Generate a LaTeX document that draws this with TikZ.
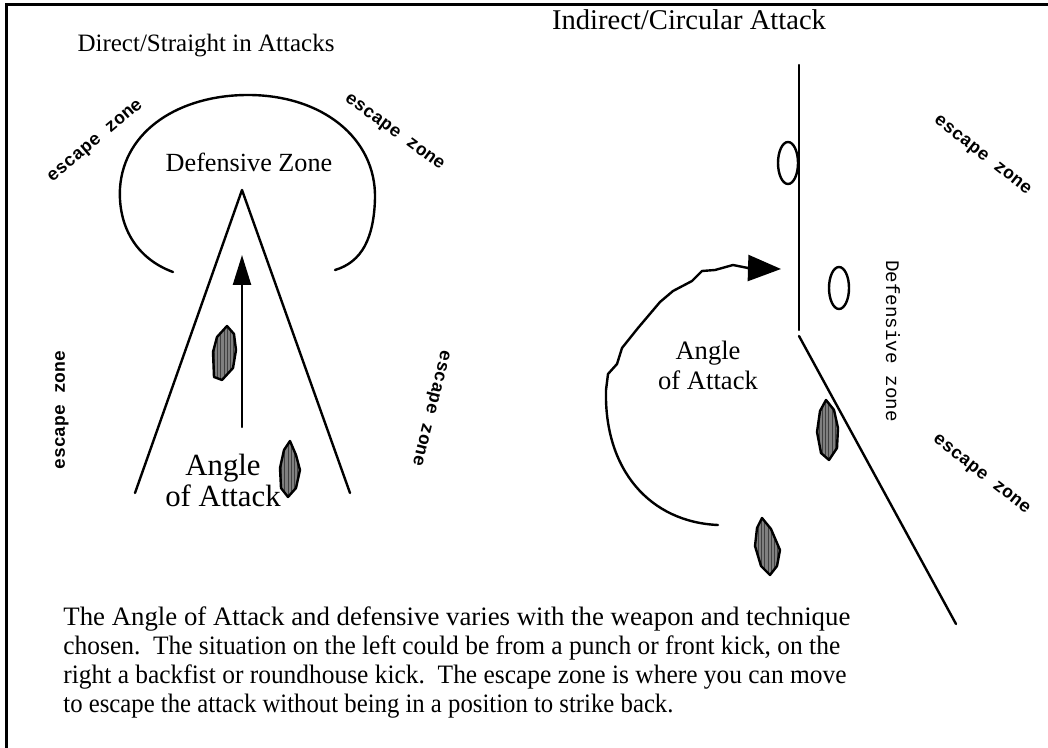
\documentclass[tikz,border=0pt]{standalone}
\usepackage{fontspec}
\setmainfont{Liberation Serif}
\newfontfamily\monofont{Liberation Mono}
\usetikzlibrary{arrows.meta,patterns.meta}
\tikzset{
  ln/.style={line width=1.2pt, line cap=round, line join=round},
  body/.style={font=\fontsize{13.3}{15}\selectfont, inner sep=0pt},
  lbl/.style={font=\fontsize{12.5}{15}\selectfont, align=center, inner sep=0pt},
  esc/.style={font=\monofont\bfseries\fontsize{9}{9}\selectfont, inner sep=0pt},
  dz/.style={font=\monofont\fontsize{9.6}{9.6}\selectfont, inner sep=0pt},
  blob/.style={line width=1.2pt, line join=round, draw=black,
    preaction={fill=black!50},
    pattern={Lines[angle=90,distance=1.6pt,line width=0.45pt]}, pattern color=black!75},
}
\begin{document}
\begin{tikzpicture}[x=0.5pt,y=-0.5pt]
\useasboundingbox (0,0) rectangle (1048,748);
% frame
\draw[line width=1.5pt] (6,748) -- (6,5) -- (1048,5);

% ---------- left diagram ----------
\node[lbl] (t1) at (206,46) {Direct/Straight in Attacks};
\draw[ln] (173,272) .. controls (135,258) and (118,225) .. (120,188)
  .. controls (124,130) and (180,95) .. (248,95)
  .. controls (322,95) and (376,138) .. (375,198)
  .. controls (374,238) and (362,262) .. (335,270);
\node[lbl, font=\fontsize{13.1}{15}\selectfont] (dzl) at (249,162) {Defensive Zone};
\coordinate (apex) at (242,190);
\coordinate (bl) at (135,493);
\coordinate (br) at (350,493);
\draw[ln] (bl) -- (apex) -- (br);
\coordinate (a1s) at (242,427);
\coordinate (a1e) at (242,255);
\draw[ln, -{Triangle[length=15pt,width=9pt]}] (a1s) -- (a1e);
\node[lbl, font=\fontsize{15.4}{15.5}\selectfont] (aa1) at (223,480) {Angle\\of Attack};
\draw[blob] (227,326) -- (234,334) -- (236,350) -- (233,368) -- (222,380) -- (214,377) -- (213,352) -- (217,337) -- cycle;
\draw[blob] (290,441) -- (296,455) -- (300,470) -- (296,488) -- (288,497) -- (281,488) -- (280,468) -- (284,450) -- cycle;
\node[esc, rotate=40] (e1) at (96,142) {escape zone};
\node[esc, rotate=-36] (e2) at (394,133) {escape zone};
\node[esc, rotate=90] (e3) at (62,410) {escape zone};
\node[esc, rotate=-104] (e4) at (430,408) {escape zone};

% ---------- right diagram ----------
\node[lbl, font=\fontsize{14.3}{15}\selectfont] (t2) at (689,20) {Indirect/Circular Attack};
\coordinate (v1) at (799,65);
\coordinate (v2) at (799,330);
\coordinate (d1) at (799,336);
\coordinate (d2) at (956,624);
\draw[ln] (v1) -- (v2);
\draw[ln] (d1) -- (d2);
\draw[ln] (788,163) ellipse [x radius=10, y radius=21];
\draw[ln] (839,288) ellipse [x radius=10, y radius=21];
\coordinate (c0) at (718,525);
\coordinate (ctip) at (781,269);
\draw[ln] (c0) .. controls (650,522) and (604,470) .. (606,390)
  -- (608,374) -- (617,364) -- (622,348) -- (638,328) -- (660,302)
  -- (673,291) -- (692,281) -- (702,271) -- (715,270) -- (733,265) -- (748,268);
\draw[ln, -{Triangle[length=16.5pt,width=13pt]}] (747,268) -- (ctip);
\node[lbl, font=\fontsize{13.3}{15}\selectfont] (aa2) at (708,365) {Angle\\of Attack};
\node[dz, rotate=-90] (dzr) at (893,341) {Defensive zone};
\draw[blob] (826,400) -- (834,410) -- (838,428) -- (837,448) -- (829,460) -- (821,453) -- (817,432) -- (820,411) -- cycle;
\draw[blob] (762,518) -- (771,529) -- (780,550) -- (777,566) -- (770,575) -- (761,566) -- (755,546) -- (757,528) -- cycle;
\node[esc, rotate=-38] (e5) at (982,156) {escape zone};
\node[esc, rotate=-38] (e6) at (981,475) {escape zone};

% ---------- caption ----------
\node[body, anchor=west] (p1) at (63,619) {\scalebox{1.008}[1]{The Angle of Attack and defensive varies with the weapon and technique}};
\node[body, anchor=west] (p2) at (63,648) {\scalebox{0.956}[1]{chosen.\ \ The situation on the left could be from a punch or front kick, on the}};
\node[body, anchor=west] (p3) at (63,677) {\scalebox{0.956}[1]{right a backfist or roundhouse kick.\ \ The escape zone is where you can move}};
\node[body, anchor=west] (p4) at (63,706) {\scalebox{0.93}[1]{to escape the attack without being in a position to strike back.}};
\end{tikzpicture}
\end{document}
